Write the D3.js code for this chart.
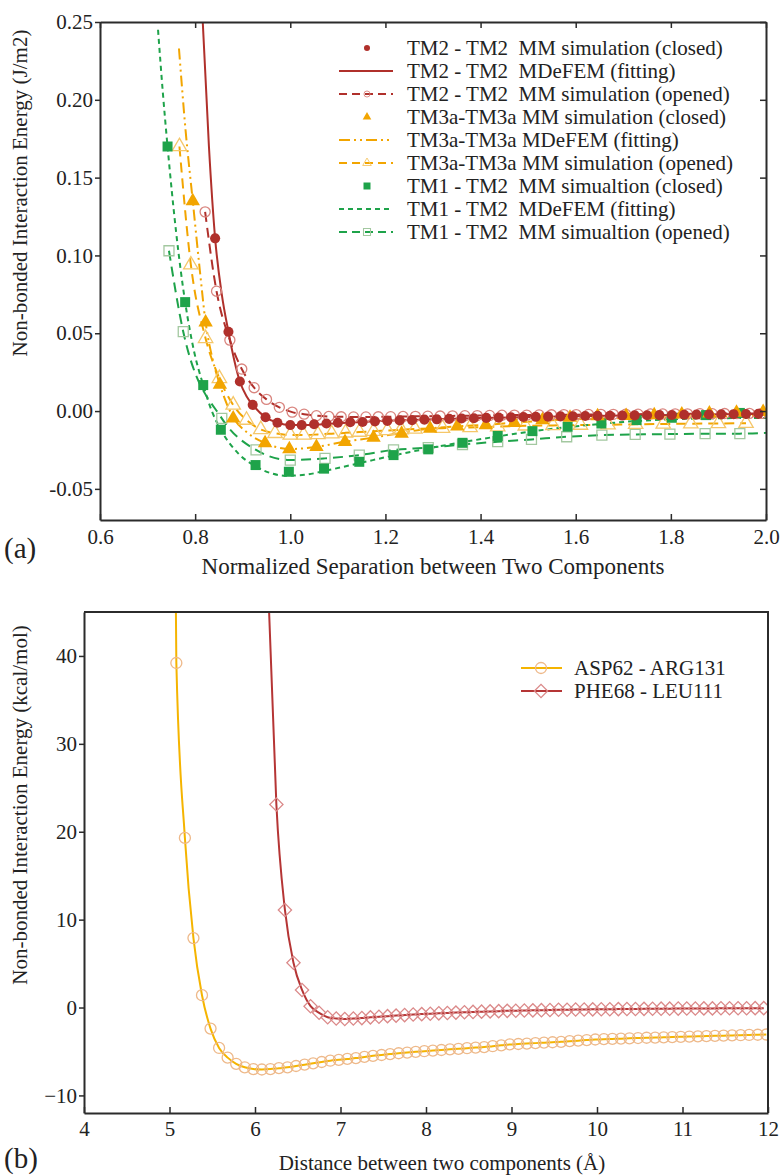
<!DOCTYPE html>
<html>
<head>
<meta charset="utf-8">
<script src="https://cdn.jsdelivr.net/npm/d3@7"></script>
<style>
  body { margin: 0; background: #fff; }
  svg { display: block; }
  svg text { font-family: "Liberation Serif", "Times New Roman", Tinos, Times, serif; }
</style>
</head>
<body>
<svg id="chart" width="783" height="1175"></svg>
<script>
// ---------- panel (a) ----------
const tm2ClosedX = [0.842, 0.870, 0.894, 0.921, 0.948, 0.973, 1.000, 1.024, 1.050, 1.076, 1.100, 1.126, 1.152, 1.178, 1.204, 1.230, 1.256, 1.282, 1.308, 1.334, 1.360, 1.386, 1.412, 1.438, 1.464, 1.490, 1.516, 1.542, 1.568, 1.594, 1.620, 1.646, 1.672, 1.698, 1.724, 1.750, 1.776, 1.802, 1.828, 1.854, 1.880, 1.906, 1.932, 1.958, 1.984];
const tm2ClosedY = [0.111, 0.051, 0.019, 0.004, -0.004, -0.0075, -0.009, -0.009, -0.0085, -0.008, -0.0075, -0.0072, -0.007, -0.0066, -0.0063, -0.006, -0.0058, -0.0055, -0.0053, -0.005, -0.0048, -0.0046, -0.0044, -0.0042, -0.004, -0.0038, -0.0037, -0.0036, -0.0034, -0.0033, -0.0032, -0.0031, -0.003, -0.0029, -0.0028, -0.0027, -0.0026, -0.0025, -0.0024, -0.0023, -0.0022, -0.0021, -0.002, -0.0019, -0.0018];

const tm2FitX = [0.816, 0.829, 0.842, 0.856, 0.870, 0.882, 0.894, 0.908, 0.921, 0.948, 0.973, 1.00, 1.03, 1.10, 1.20, 1.30, 1.40, 1.50, 1.60, 1.70, 1.80, 1.90, 2.00];
const tm2FitY = [0.25, 0.17, 0.111, 0.075, 0.051, 0.033, 0.019, 0.0095, 0.004, -0.004, -0.0075, -0.009, -0.009, -0.0078, -0.0063, -0.0053, -0.0045, -0.0038, -0.0033, -0.0029, -0.0025, -0.0021, -0.0018];

const tm2OpenX = [0.821, 0.845, 0.873, 0.898, 0.924, 0.950, 0.977, 1.004, 1.029, 1.055, 1.081, 1.107, 1.133, 1.159, 1.185, 1.211, 1.237, 1.263, 1.289, 1.315, 1.341, 1.367, 1.393, 1.419, 1.445, 1.471, 1.497, 1.523, 1.549, 1.575, 1.601, 1.627, 1.653, 1.679, 1.705, 1.731, 1.757, 1.783, 1.809, 1.835, 1.861, 1.887, 1.913, 1.939, 1.965, 1.991];
const tm2OpenY = [0.128, 0.077, 0.0456, 0.027, 0.015, 0.0075, 0.0024, -0.0007, -0.002, -0.003, -0.0035, -0.0037, -0.0038, -0.0038, -0.0037, -0.0036, -0.0035, -0.0034, -0.0033, -0.0032, -0.0031, -0.003, -0.0029, -0.0028, -0.0027, -0.0026, -0.0026, -0.0025, -0.0024, -0.0023, -0.0023, -0.0022, -0.0021, -0.0021, -0.002, -0.002, -0.0019, -0.0019, -0.0018, -0.0018, -0.0017, -0.0017, -0.0016, -0.0016, -0.0015, -0.0015];

const tm3ClosedX = [0.795, 0.822, 0.852, 0.880, 0.947, 0.998, 1.055, 1.115, 1.175, 1.234, 1.294, 1.351, 1.411, 1.471, 1.530, 1.588, 1.646, 1.706, 1.765, 1.823, 1.881, 1.938, 1.994];
const tm3ClosedY = [0.135, 0.057, 0.017, -0.0047, -0.0205, -0.0244, -0.023, -0.0197, -0.017, -0.0145, -0.0112, -0.0098, -0.009, -0.0075, -0.0058, -0.0042, -0.0032, -0.003, -0.0026, -0.0021, -0.0015, -0.001, -0.0005];

const tm3FitX = [0.766, 0.780, 0.795, 0.810, 0.822, 0.837, 0.852, 0.866, 0.880, 0.910, 0.947, 0.975, 1.000, 1.055, 1.115, 1.175, 1.234, 1.294, 1.350, 1.410, 1.470, 1.530, 1.600, 1.700, 1.800, 1.900, 2.000];
const tm3FitY = [0.233, 0.18, 0.135, 0.09, 0.057, 0.033, 0.017, 0.005, -0.004, -0.014, -0.0205, -0.0235, -0.0244, -0.023, -0.0197, -0.017, -0.014, -0.0112, -0.0098, -0.0088, -0.0075, -0.0062, -0.0052, -0.0045, -0.004, -0.0035, -0.003];

const tm3OpenX = [0.767, 0.791, 0.822, 0.851, 0.880, 0.908, 0.938, 0.968, 1.000, 1.028, 1.058, 1.087, 1.116, 1.145, 1.175, 1.204, 1.233, 1.262, 1.320, 1.378, 1.436, 1.494, 1.552, 1.610, 1.668, 1.726, 1.784, 1.842, 1.900, 1.958];
const tm3OpenY = [0.170, 0.094, 0.0467, 0.021, 0.0039, -0.0058, -0.0118, -0.0143, -0.0154, -0.0154, -0.015, -0.0145, -0.014, -0.0135, -0.013, -0.0125, -0.012, -0.0115, -0.011, -0.0105, -0.01, -0.0095, -0.0092, -0.009, -0.0088, -0.0085, -0.0083, -0.0081, -0.008, -0.0078];

const tm1ClosedX = [0.742, 0.779, 0.817, 0.854, 0.927, 0.997, 1.071, 1.145, 1.217, 1.290, 1.362, 1.436, 1.509, 1.583, 1.654, 1.728, 1.802, 1.874, 1.945];
const tm1ClosedY = [0.170, 0.070, 0.0167, -0.012, -0.0347, -0.039, -0.037, -0.0326, -0.0283, -0.0246, -0.0204, -0.016, -0.0129, -0.010, -0.008, -0.0058, -0.0043, -0.0026, -0.0012];

const tm1FitX = [0.722, 0.732, 0.742, 0.760, 0.779, 0.798, 0.817, 0.835, 0.854, 0.890, 0.927, 0.960, 0.990, 1.030, 1.071, 1.145, 1.217, 1.290, 1.362, 1.436, 1.509, 1.583, 1.654, 1.728, 1.802, 1.874, 1.945, 2.000];
const tm1FitY = [0.245, 0.205, 0.17, 0.115, 0.07, 0.038, 0.0167, 0.0, -0.012, -0.027, -0.0355, -0.04, -0.0415, -0.041, -0.0385, -0.0335, -0.0285, -0.024, -0.02, -0.0163, -0.013, -0.0103, -0.0082, -0.0064, -0.0053, -0.0047, -0.0045, -0.0044];

const tm1OpenX = [0.745, 0.775, 0.856, 0.928, 1.000, 1.073, 1.145, 1.217, 1.290, 1.362, 1.436, 1.507, 1.581, 1.655, 1.725, 1.798, 1.872, 1.945, 2.000];
const tm1OpenY = [0.103, 0.051, -0.0047, -0.025, -0.0315, -0.0304, -0.0283, -0.025, -0.0235, -0.0215, -0.0197, -0.0182, -0.0165, -0.0155, -0.015, -0.0148, -0.0145, -0.0145, -0.0140];

const legendLabelsA = [
    "TM2 - TM2  MM simulation (closed)",
    "TM2 - TM2  MDeFEM (fitting)",
    "TM2 - TM2  MM simulation (opened)",
    "TM3a-TM3a MM simulation (closed)",
    "TM3a-TM3a MDeFEM (fitting)",
    "TM3a-TM3a MM simulation (opened)",
    "TM1 - TM2  MM simualtion (closed)",
    "TM1 - TM2  MDeFEM (fitting)",
    "TM1 - TM2  MM simualtion (opened)"
];
const xTicksA = [0.6, 0.8, 1.0, 1.2, 1.4, 1.6, 1.8, 2.0];
const yTicksA = [-0.05, 0.00, 0.05, 0.10, 0.15, 0.20, 0.25];

// ---------- panel (b) ----------
const aspX = [5.08, 5.18, 5.28, 5.38, 5.48, 5.58, 5.68, 5.78, 5.88, 5.98, 6.08, 6.18, 6.28, 6.38, 6.48, 6.58, 6.68, 6.78, 6.88, 6.98, 7.08, 7.18, 7.28, 7.38, 7.48, 7.58, 7.68, 7.78, 7.88, 7.98, 8.08, 8.18, 8.28, 8.38, 8.48, 8.58, 8.68, 8.78, 8.88, 8.98, 9.08, 9.18, 9.28, 9.38, 9.48, 9.58, 9.68, 9.78, 9.88, 9.98, 10.08, 10.18, 10.28, 10.38, 10.48, 10.58, 10.68, 10.78, 10.88, 10.98, 11.08, 11.18, 11.28, 11.38, 11.48, 11.58, 11.68, 11.78, 11.88, 11.98];
const aspY = [39.2, 19.3, 7.9, 1.4, -2.4, -4.6, -5.7, -6.4, -6.8, -7.0, -7.05, -7.0, -6.9, -6.8, -6.65, -6.5, -6.35, -6.2, -6.05, -5.95, -5.85, -5.75, -5.62, -5.5, -5.4, -5.3, -5.2, -5.12, -5.04, -4.97, -4.9, -4.83, -4.76, -4.7, -4.63, -4.56, -4.5, -4.4, -4.3, -4.2, -4.15, -4.1, -4.05, -4.0, -3.95, -3.9, -3.83, -3.77, -3.7, -3.64, -3.6, -3.57, -3.54, -3.5, -3.47, -3.44, -3.42, -3.39, -3.36, -3.33, -3.3, -3.28, -3.25, -3.22, -3.2, -3.17, -3.15, -3.12, -3.1, -3.07];
const aspLineStart = [5.075, 45];

const pheX = [6.25, 6.35, 6.45, 6.55, 6.65, 6.75, 6.85, 6.95, 7.05, 7.15, 7.25, 7.35, 7.45, 7.55, 7.65, 7.75, 7.85, 7.95, 8.05, 8.15, 8.25, 8.35, 8.45, 8.55, 8.65, 8.75, 8.85, 8.95, 9.05, 9.15, 9.25, 9.35, 9.45, 9.55, 9.65, 9.75, 9.85, 9.95, 10.05, 10.15, 10.25, 10.35, 10.45, 10.55, 10.65, 10.75, 10.85, 10.95, 11.05, 11.15, 11.25, 11.35, 11.45, 11.55, 11.65, 11.75, 11.85, 11.95];
const pheY = [23.1, 11.1, 5.1, 2.0, 0.15, -0.6, -1.1, -1.25, -1.3, -1.25, -1.2, -1.12, -1.05, -0.98, -0.92, -0.86, -0.8, -0.75, -0.7, -0.66, -0.62, -0.58, -0.54, -0.5, -0.47, -0.44, -0.41, -0.38, -0.36, -0.34, -0.32, -0.3, -0.28, -0.26, -0.25, -0.23, -0.22, -0.21, -0.2, -0.19, -0.18, -0.17, -0.16, -0.15, -0.14, -0.13, -0.13, -0.12, -0.11, -0.11, -0.1, -0.1, -0.09, -0.09, -0.08, -0.08, -0.07, -0.07];
const pheLineStart = [6.165, 45];

const legendLabelsB = ["ASP62 - ARG131", "PHE68 - LEU111"];
const xTicksB = [4, 5, 6, 7, 8, 9, 10, 11, 12];
const yTicksB = [-10, 0, 10, 20, 30, 40];

// colours
const RED = "#b0302b", RED_LIGHT = "#d9857f";
const ORANGE = "#f2a500", ORANGE_LIGHT = "#f5c76a";
const GREEN = "#1ea34a", GREEN_LIGHT = "#a3c8a0";
const AXIS = "#2b2b2b";
const FONT = "'Liberation Serif', 'Times New Roman', Tinos, Times, serif";

const svg = d3.select( "#chart" );
const zip = ( xs, ys ) => xs.map( ( x, i ) => [ x, ys[ i ] ] );

const symCircle = d3.symbol().type( d3.symbolCircle ).size( 80 );
const symTri = d3.symbol().type( d3.symbolTriangle ).size( 90 );
const symSquare = d3.symbol().type( d3.symbolSquare ).size( 100 );

const addText = ( g, txt, size ) => g.append( "text" )
    .style( "font-family", FONT )
    .style( "font-size", size + "px" )
    .attr( "fill", "#222" )
    .text( txt );

// ================= PANEL A =================
const xA = d3.scaleLinear().domain( [ 0.6, 2.0 ] ).range( [ 100, 766 ] );
const yA = d3.scaleLinear().domain( [ -0.07, 0.25 ] ).range( [ 520, 22 ] );

svg.append( "clipPath" ).attr( "id", "clipA" )
    .append( "rect" ).attr( "x", 100 ).attr( "y", 22 ).attr( "width", 666 ).attr( "height", 498 );

const gA = svg.append( "g" ).attr( "clip-path", "url(#clipA)" );
const lineA = d3.line().x( d => xA( d[ 0 ] ) ).y( d => yA( d[ 1 ] ) ).curve( d3.curveMonotoneX );

const seriesLines = [
    { data: zip( tm2FitX, tm2FitY ), color: RED, dash: null },
    { data: zip( tm2OpenX, tm2OpenY ), color: RED, dash: "10,6" },
    { data: zip( tm3FitX, tm3FitY ), color: ORANGE, dash: "11,4,2,4,2,4" },
    { data: zip( tm3OpenX, tm3OpenY ), color: ORANGE, dash: "10,6" },
    { data: zip( tm1FitX, tm1FitY ), color: GREEN, dash: "5,4" },
    { data: zip( tm1OpenX, tm1OpenY ), color: GREEN, dash: "10,6" }
];

seriesLines.forEach( s => {
    gA.append( "path" )
        .attr( "d", lineA( s.data ) )
        .attr( "fill", "none" )
        .attr( "stroke", s.color )
        .attr( "stroke-width", 2 )
        .attr( "stroke-dasharray", s.dash );
} );

const drawMarks = ( g, data, sym, fill, stroke, x, y ) => {
    g.append( "g" )
        .selectAll( "path" )
        .data( data )
        .enter()
        .append( "path" )
        .attr( "d", sym )
        .attr( "transform", d => `translate(${x( d[ 0 ] )},${y( d[ 1 ] )})` )
        .attr( "fill", fill )
        .attr( "stroke", stroke )
        .attr( "stroke-width", 1.3 );
};

// opened (hollow) markers first, closed on top
drawMarks( gA, zip( tm1OpenX, tm1OpenY ).slice( 0, -1 ), symSquare, "none", GREEN_LIGHT, xA, yA );
drawMarks( gA, zip( tm3OpenX, tm3OpenY ), symTri, "none", ORANGE_LIGHT, xA, yA );
drawMarks( gA, zip( tm2OpenX, tm2OpenY ), symCircle, "none", RED_LIGHT, xA, yA );
drawMarks( gA, zip( tm1ClosedX, tm1ClosedY ), symSquare, GREEN, "none", xA, yA );
drawMarks( gA, zip( tm3ClosedX, tm3ClosedY ), symTri, ORANGE, "none", xA, yA );
drawMarks( gA, zip( tm2ClosedX, tm2ClosedY ), symCircle, RED, "none", xA, yA );

// axes A
const styleAxis = g => {
    g.attr( "font-family", null ).attr( "font-size", null );
    g.selectAll( ".domain" ).attr( "stroke", AXIS ).attr( "stroke-width", 2 );
    g.selectAll( ".tick line" ).attr( "stroke", AXIS ).attr( "stroke-width", 1.5 );
    g.selectAll( ".tick text" ).attr( "fill", "#222" )
        .style( "font-size", "21px" )
        .style( "font-family", FONT );
};

svg.append( "g" ).attr( "transform", "translate(0,520)" )
    .call( d3.axisBottom( xA ).tickValues( xTicksA ).tickFormat( d3.format( ".1f" ) ).tickSizeInner( -6 ).tickSizeOuter( 0 ).tickPadding( 9 ) )
    .call( styleAxis );
svg.append( "g" ).attr( "transform", "translate(0,22)" )
    .call( d3.axisTop( xA ).tickValues( xTicksA ).tickFormat( "" ).tickSizeInner( -6 ).tickSizeOuter( 0 ) )
    .call( styleAxis );
svg.append( "g" ).attr( "transform", "translate(100,0)" )
    .call( d3.axisLeft( yA ).tickValues( yTicksA ).tickFormat( d => d.toFixed( 2 ) ).tickSizeInner( 5 ).tickSizeOuter( 0 ).tickPadding( 2 ) )
    .call( styleAxis );
svg.append( "g" ).attr( "transform", "translate(766,0)" )
    .call( d3.axisRight( yA ).tickValues( yTicksA ).tickFormat( "" ).tickSizeInner( -6 ).tickSizeOuter( 0 ) )
    .call( styleAxis );

// legend A
const legA = svg.append( "g" ).attr( "transform", "translate(0,48)" );
const legendKinds = [
    { mark: symCircle, fill: RED, stroke: "none" },
    { line: RED, dash: null },
    { line: RED, dash: "8,5", mark: symCircle, fill: "none", stroke: RED_LIGHT },
    { mark: symTri, fill: ORANGE, stroke: "none" },
    { line: ORANGE, dash: "11,4,2,4,2,4" },
    { line: ORANGE, dash: "8,5", mark: symTri, fill: "none", stroke: ORANGE_LIGHT },
    { mark: symSquare, fill: GREEN, stroke: "none", scale: 0.7 },
    { line: GREEN, dash: "5,4" },
    { line: GREEN, dash: "8,5", mark: symSquare, fill: "none", stroke: GREEN_LIGHT, scale: 0.7 }
];
legendLabelsA.forEach( ( label, i ) => {
    const row = legA.append( "g" ).attr( "transform", `translate(0,${i * 23})` );
    const k = legendKinds[ i ];
    if ( k.line ) {
        row.append( "line" ).attr( "x1", 339 ).attr( "x2", 393 ).attr( "y1", 0 ).attr( "y2", 0 )
            .attr( "stroke", k.line ).attr( "stroke-width", 2 ).attr( "stroke-dasharray", k.dash );
    }
    if ( k.mark ) {
        row.append( "path" ).attr( "d", k.mark )
            .attr( "transform", `translate(367,0) scale(${k.scale || 0.6})` )
            .attr( "fill", k.fill ).attr( "stroke", k.stroke ).attr( "stroke-width", 1.5 );
    }
    addText( row, label, 21 ).attr( "x", 407 ).attr( "y", 7 ).style( "white-space", "pre" );
} );

// titles A
addText( svg, "Non-bonded Interaction Energy (J/m2)", 21 )
    .attr( "transform", "translate(27,193) rotate(-90)" )
    .attr( "text-anchor", "middle" );
addText( svg, "Normalized Separation between Two Components", 23 )
    .attr( "x", 433 ).attr( "y", 574 )
    .attr( "text-anchor", "middle" );
addText( svg, "(a)", 29 ).attr( "x", 4 ).attr( "y", 558 );

// ================= PANEL B =================
const xB = d3.scaleLinear().domain( [ 4, 12 ] ).range( [ 84, 768 ] );
const yB = d3.scaleLinear().domain( [ -12, 45 ] ).range( [ 1113, 612 ] );

svg.append( "clipPath" ).attr( "id", "clipB" )
    .append( "rect" ).attr( "x", 84 ).attr( "y", 612 ).attr( "width", 684 ).attr( "height", 501 );

const gB = svg.append( "g" ).attr( "clip-path", "url(#clipB)" );
const lineB = d3.line().x( d => xB( d[ 0 ] ) ).y( d => yB( d[ 1 ] ) ).curve( d3.curveMonotoneX );

const symDiamond = d3.symbol().type( d3.symbolSquare ).size( 88 );

gB.append( "path" ).attr( "d", lineB( [ aspLineStart ].concat( zip( aspX, aspY ) ) ) )
    .attr( "fill", "none" ).attr( "stroke", "#f5b400" ).attr( "stroke-width", 2 );
gB.append( "path" ).attr( "d", lineB( [ pheLineStart ].concat( zip( pheX, pheY ) ) ) )
    .attr( "fill", "none" ).attr( "stroke", "#b53535" ).attr( "stroke-width", 2 );

gB.append( "g" ).selectAll( "circle" )
    .data( zip( aspX, aspY ) )
    .enter()
    .append( "circle" )
    .attr( "cx", d => xB( d[ 0 ] ) ).attr( "cy", d => yB( d[ 1 ] ) ).attr( "r", 5.5 )
    .attr( "fill", "none" ).attr( "stroke", "#eeb98a" ).attr( "stroke-width", 1.3 );
gB.append( "g" ).selectAll( "path" )
    .data( zip( pheX, pheY ) )
    .enter()
    .append( "path" )
    .attr( "d", symDiamond )
    .attr( "transform", d => `translate(${xB( d[ 0 ] )},${yB( d[ 1 ] )}) rotate(45)` )
    .attr( "fill", "none" ).attr( "stroke", "#db8a8a" ).attr( "stroke-width", 1.3 );

// axes B
svg.append( "g" ).attr( "transform", "translate(0,1113)" )
    .call( d3.axisBottom( xB ).tickValues( xTicksB ).tickFormat( d3.format( "d" ) ).tickSizeInner( -6 ).tickSizeOuter( 0 ).tickPadding( 8 ) )
    .call( styleAxis );
svg.append( "g" ).attr( "transform", "translate(84,0)" )
    .call( d3.axisLeft( yB ).tickValues( yTicksB ).tickFormat( d3.format( "d" ) ).tickSizeInner( 5 ).tickSizeOuter( 0 ).tickPadding( 2 ) )
    .call( styleAxis );
svg.append( "path" )
    .attr( "d", `M84,612H768V1113` )
    .attr( "fill", "none" ).attr( "stroke", AXIS ).attr( "stroke-width", 2 );

// legend B
const legB = svg.append( "g" ).attr( "transform", "translate(0,668)" );
legendLabelsB.forEach( ( label, i ) => {
    const row = legB.append( "g" ).attr( "transform", `translate(0,${i * 23})` );
    row.append( "line" ).attr( "x1", 521 ).attr( "x2", 562 ).attr( "y1", 0 ).attr( "y2", 0 )
        .attr( "stroke", i === 0 ? "#f5b400" : "#b53535" ).attr( "stroke-width", 2 );
    if ( i === 0 ) {
        row.append( "circle" ).attr( "cx", 541 ).attr( "cy", 0 ).attr( "r", 5.5 )
            .attr( "fill", "none" ).attr( "stroke", "#eeb98a" ).attr( "stroke-width", 1.3 );
    } else {
        row.append( "path" ).attr( "d", symDiamond ).attr( "transform", "translate(541,0) rotate(45)" )
            .attr( "fill", "none" ).attr( "stroke", "#db8a8a" ).attr( "stroke-width", 1.3 );
    }
    addText( row, label, 21 ).attr( "x", 574 ).attr( "y", 7 );
} );

// titles B
addText( svg, "Non-bonded Interaction Energy (kcal/mol)", 21 )
    .attr( "transform", "translate(27,805) rotate(-90)" )
    .attr( "text-anchor", "middle" );
addText( svg, "Distance between two components (Å)", 21 )
    .attr( "x", 442 ).attr( "y", 1170 )
    .attr( "text-anchor", "middle" );
addText( svg, "(b)", 29 ).attr( "x", 4 ).attr( "y", 1168 );
</script>
</body>
</html>
